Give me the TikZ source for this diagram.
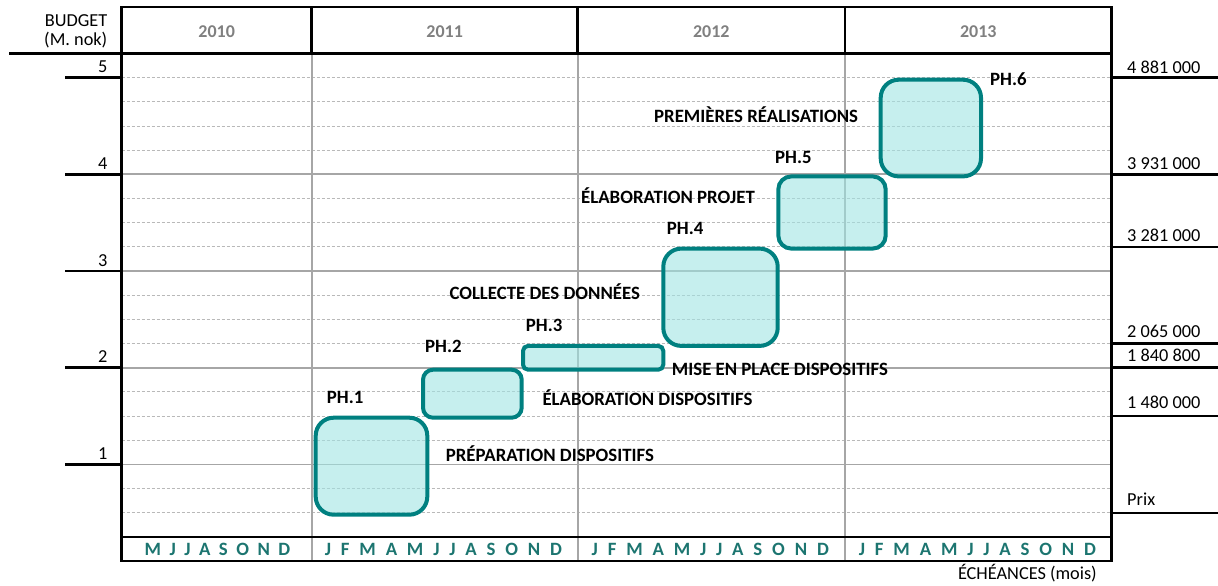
\documentclass[tikz,border=0pt]{standalone}
\usepackage{fontspec}
\setmainfont{Carlito}
\definecolor{phaseteal}{RGB}{0,128,128}
\definecolor{phasefill}{RGB}{160,228,227}
\definecolor{monthteal}{RGB}{28,117,112}
\definecolor{gridgray}{RGB}{166,166,166}
\definecolor{dashgray}{RGB}{185,185,185}
\definecolor{yeargray}{RGB}{128,128,128}
\newcommand{\mg}{\hspace{9.85pt}}
\newcommand{\mgs}{\hspace{8.5pt}}

\begin{document}
\begin{tikzpicture}[
    x=1pt,
    y=-1pt,
    frame/.style={
        line width=2.5pt,
        black
    },
    major/.style={
        line width=1.8pt,
        gridgray
    },
    minor/.style={
        line width=0.9pt,
        dashgray,
        dash pattern=on 3pt off 2pt
    },
    ph/.style={
        draw=phaseteal,
        fill=phasefill,
        fill opacity=0.6,
        line width=4pt,
        inner sep=0pt,
        anchor=north west
    },
    tag/.style={
        font=\fontsize{18.8}{21}\selectfont\bfseries,
        inner sep=0pt
    },
    num/.style={
        font=\fontsize{18.3}{21}\selectfont,
        inner sep=0pt
    },
    yr/.style={
        font=\fontsize{18}{20}\selectfont\bfseries,
        text=yeargray,
        inner sep=0pt
    },
    mo/.style={
        font=\fontsize{18.8}{21}\selectfont\bfseries,
        text=monthteal,
        inner sep=0pt,
        anchor=base
    }
]

\useasboundingbox (0,0) rectangle (1218,586);

\foreach \k in {0,1,2,3,5,6,7,9,10,11,13,14,15,17,18}
    \draw[minor] (121.7,{77.7+24.17*\k}) -- (1111.7,{77.7+24.17*\k});
\foreach \k in {4,8,12,16}
    \draw[major] (121.7,{77.7+24.17*\k}) -- (1111.7,{77.7+24.17*\k});
\foreach \xx in {311.7,577.7,845}
    \draw[major] (\xx,53.5) -- (\xx,561.1);

\node[ph, minimum width=111.6pt, minimum height=97pt, rounded corners=18pt] (ph1) at (313.7,415.7) {};
\node[ph, minimum width=98.7pt, minimum height=48pt, rounded corners=10pt] (ph2) at (421,367.7) {};
\node[ph, minimum width=140.3pt, minimum height=23.8pt, rounded corners=5pt] (ph3) at (521,343.9) {};
\node[ph, minimum width=114.4pt, minimum height=97.3pt, rounded corners=18pt] (ph4) at (661.3,246.6) {};
\node[ph, minimum width=107.4pt, minimum height=72.2pt, rounded corners=13pt] (ph5) at (776.3,174.4) {};
\node[ph, minimum width=100.3pt, minimum height=96.7pt, rounded corners=18pt] (ph6) at (878.7,77.7) {};

\draw[frame] (121.7,7) rectangle (1111.7,561.1);
\draw[frame] (9,53.5) -- (1111.7,53.5);
\draw[frame] (121.7,536.9) -- (1111.7,536.9);
\foreach \xx in {311.7,577.7,845}
    \draw[frame] (\xx,7) -- (\xx,53.5);
\foreach \k in {0,4,8,12,16}
    \draw[frame] (65,{77.7+24.17*\k}) -- (121.7,{77.7+24.17*\k});
\foreach \k in {0,4,7,11,12,14,18}
    \draw[frame] (1111.7,{77.7+24.17*\k}) -- (1218,{77.7+24.17*\k});

\node[num, anchor=base east] (budget) at (107.5,26.7) {BUDGET};
\node[num, anchor=base east] (unit) at (107.5,45.5) {(M. nok)};
\foreach \v/\k in {5/0,4/4,3/8,2/12,1/16}
    \node[num, anchor=base east] (lv\v) at (107.5,{72.7+24.17*\k}) {\v};

\node[num, anchor=base west] (r0) at (1127,73.3) {4 881 000};
\node[num, anchor=base west] (r4) at (1127,169.3) {3 931 000};
\node[num, anchor=base west] (r7) at (1127,241) {3 281 000};
\node[num, anchor=base west] (r11) at (1127,337.7) {2 065 000};
\node[num, anchor=base west] (r12) at (1127,361.7) {1 840 800};
\node[num, anchor=base west] (r14) at (1127,408.3) {1 480 000};
\node[num, anchor=base west] (r18) at (1127,505) {Prix};
\node[num, anchor=base east] (due) at (1097,579.5) {ÉCHÉANCES (mois)};

\node[yr] (y2010) at (216.7,31.5) {2010};
\node[yr] (y2011) at (444.7,31.5) {2011};
\node[yr] (y2012) at (711.3,31.5) {2012};
\node[yr] (y2013) at (978.3,31.5) {2013};

\node[mo] (m2010) at (217.5,555) {M\mgs J\mgs J\mgs A\mgs S\mgs O\mgs N\mgs D};
\node[mo] (m2011) at (443.5,555) {J\mg F\mg M\mg A\mg M\mg J\mg J\mg A\mg S\mg O\mg N\mg D};
\node[mo] (m2012) at (710.3,555) {J\mg F\mg M\mg A\mg M\mg J\mg J\mg A\mg S\mg O\mg N\mg D};
\node[mo] (m2013) at (977.5,555) {J\mg F\mg M\mg A\mg M\mg J\mg J\mg A\mg S\mg O\mg N\mg D};

\node[tag, anchor=base west] (ph1lab) at (326.7,403.3) {PH.1};
\node[tag, anchor=base west] (ph2lab) at (425,352.7) {PH.2};
\node[tag, anchor=base west] (ph3lab) at (525.7,331) {PH.3};
\node[tag, anchor=base west] (ph4lab) at (666.7,234) {PH.4};
\node[tag, anchor=base west] (ph5lab) at (775,163.3) {PH.5};
\node[tag, anchor=base west] (ph6lab) at (990,85.7) {PH.6};

\node[tag, anchor=base west] (prep) at (445.7,461.7) {PRÉPARATION DISPOSITIFS};
\node[tag, anchor=base west] (elabdisp) at (542.3,405) {ÉLABORATION DISPOSITIFS};
\node[tag, anchor=base west] (mise) at (671.7,375.7) {MISE EN PLACE DISPOSITIFS};
\node[tag, anchor=base west] (collecte) at (449.3,299) {COLLECTE DES DONNÉES};
\node[tag, anchor=base east] (elabproj) at (755,203.3) {ÉLABORATION PROJET};
\node[tag, anchor=base west] (premieres) at (654,122.3) {PREMIÈRES RÉALISATIONS};

\end{tikzpicture}
\end{document}
